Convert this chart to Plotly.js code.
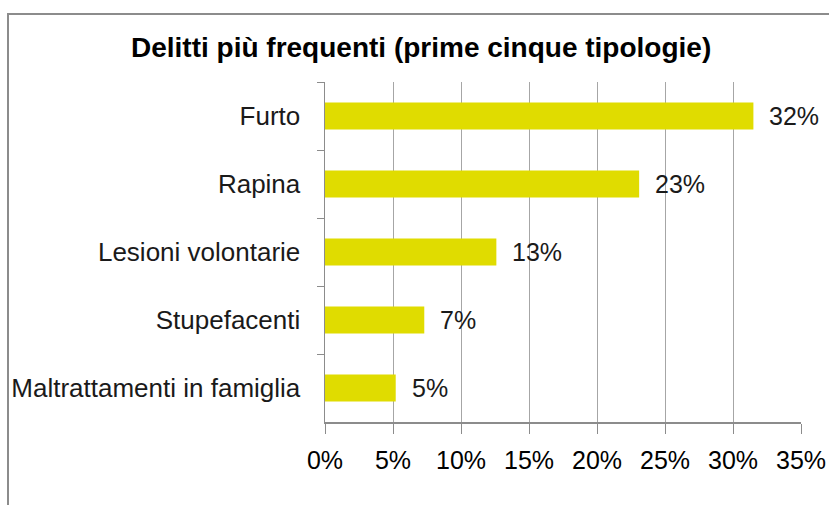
<!DOCTYPE html>
<html>
<head>
<meta charset="utf-8">
<script src="https://cdn.plot.ly/plotly-3.0.1.min.js"></script>
<style>
html,body{margin:0;padding:0;background:#fff;}
#frame{position:absolute;left:7px;top:13px;width:900px;height:600px;border-left:2px solid #8c8c8c;border-top:2px solid #8c8c8c;}
#chart{position:absolute;left:0;top:0;width:829px;height:505px;}
</style>
</head>
<body>
<div id="frame"></div>
<div id="chart"></div>
<script>
const categories = ["Furto","Rapina","Lesioni volontarie","Stupefacenti","Maltrattamenti in famiglia"];
const values = [0.315, 0.231, 0.126, 0.073, 0.052];
const labels = ["32%","23%","13%","7%","5%"];
const tickVals = [0,0.05,0.10,0.15,0.20,0.25,0.30,0.35];
const tickText = ["0%","5%","10%","15%","20%","25%","30%","35%"];

const font = "Liberation Sans Narrow, Arial Narrow, Liberation Sans, sans-serif";

const trace = {
  type:'bar', orientation:'h',
  x: values, y: categories,
  marker:{color:'#E0DC00', line:{width:0}},
  width:0.4, hoverinfo:'none'
};

const annotations = categories.map((c,i)=>({
  x: values[i], y: c, xref:'x', yref:'y', text: labels[i],
  showarrow:false, xanchor:'left', xshift:14, yshift:0,
  font:{family:font, size:25, color:'#1a1a1a'}
}));

const layout = {
  width:829, height:505,
  paper_bgcolor:'rgba(0,0,0,0)', plot_bgcolor:'rgba(0,0,0,0)',
  margin:{l:325, r:28, t:82, b:83},
  showlegend:false,
  title:{text:'<b>Delitti più frequenti (prime cinque tipologie)</b>', x:0.508, xref:'container', xanchor:'center', y:0.907, yref:'container', yanchor:'middle',
    font:{family:font, size:28, color:'#000'}},
  xaxis:{range:[0,0.35], tickvals:tickVals, ticktext:tickText, showgrid:true, gridcolor:'#a6a6a6', gridwidth:1,
    zeroline:false, showline:true, linecolor:'#8c8c8c', linewidth:1.5, ticks:'outside', ticklen:10, tickcolor:'#8c8c8c',
    ticklabelstandoff:5, tickfont:{family:font, size:25, color:'#000'}, fixedrange:true},
  yaxis:{type:'category', autorange:'reversed', showgrid:false, zeroline:false, showline:true, linecolor:'#8c8c8c', linewidth:1.5,
    ticks:'outside', ticklen:7, tickcolor:'#8c8c8c', tickson:'boundaries', ticklabelstandoff:18,
    tickfont:{family:font, size:26, color:'#1a1a1a'}, fixedrange:true},
  annotations: annotations,
  bargap:0.6
};

Plotly.newPlot('chart',[trace],layout,{displayModeBar:false, staticPlot:true});
</script>
</body>
</html>
